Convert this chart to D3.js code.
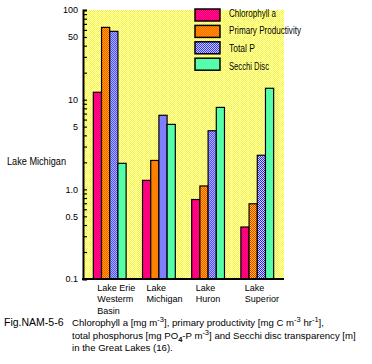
<!DOCTYPE html>
<html>
<head>
<meta charset="utf-8">
<script src="https://cdn.jsdelivr.net/npm/d3@7"></script>
<style>
body { margin: 0; background: #fff; }
text { font-family: "Liberation Sans", Arial, sans-serif; fill: #000; }
</style>
</head>
<body>
<svg id="chart" width="372" height="364"></svg>
<script>
/* data (log scale) */
var lakes = ["Erie", "Michigan", "Huron", "Superior"];
var lake_labels = [["Lake Erie", "Westerm", "Basin"], ["Lake", "Michigan"], ["Lake", "Huron"], ["Lake", "Superior"]];
var series_names = ["Chlorophyll a", "Primary Productivity", "Total P", "Secchi Disc"];
var chlorophyll = [12.1, 1.26, 0.77, 0.38];
var productivity = [64, 2.1, 1.09, 0.69];
var total_p = [57.8, 6.7, 4.5, 2.4];
var secchi = [1.95, 5.3, 8.2, 13.4];
var tick_values = [100, 50, 10, 5, 1, 0.5, 0.1];
var tick_texts = ["100", "50", "10", "5", "1.0", "0.5", "0.1"];

var series = [chlorophyll, productivity, total_p, secchi];
var fills = ["url(#p-chl)", "url(#p-prod)", "url(#p-totp)", "#55ffaa"];
// the original uses a narrow bitmap font, so legend texts get squeezed to its widths
var legend_widths = [47, 72, 26, 40];

var svg = d3.select("#chart");

/* checkered fills imitating the dithered original */
var defs = svg.append("defs");
function checker(id, c1, c2){
	var p = defs.append("pattern")
	.attr("id", id)
	.attr("width", 2)
	.attr("height", 2)
	.attr("patternUnits", "userSpaceOnUse");
	p.append("rect").attr("width", 2).attr("height", 2).attr("fill", c1);
	p.append("rect").attr("width", 1).attr("height", 1).attr("fill", c2);
	p.append("rect").attr("x", 1).attr("y", 1).attr("width", 1).attr("height", 1).attr("fill", c2);
}
checker("p-bg", "#ffff00", "#ffffff");
checker("p-chl", "#ff0000", "#ff00ff");
checker("p-prod", "#ff0000", "#ffff00");
checker("p-totp", "#0000ff", "#ffffff");

var x = d3.scaleBand().domain(lakes).range([83, 284]).paddingInner(0.333).paddingOuter(0.21);
var xs = d3.scaleBand().domain(d3.range(4)).range([0, x.bandwidth()]);
var y = d3.scaleLog().domain([0.1, 100]).range([279, 10]);

// plot background
svg.append("rect")
.attr("x", 83)
.attr("y", 10)
.attr("width", 201)
.attr("height", 269)
.attr("fill", "url(#p-bg)");

// bars
var groups = svg.append("g")
.selectAll("g")
.data(lakes)
.enter().append("g")
.attr("transform", function(d){ return "translate(" + x(d) + ",0)"; });

groups.selectAll("rect")
.data(function(d, i){
	return series.map(function(s, k){ return {k: k, v: s[i]}; });
})
.enter().append("rect")
.attr("x", function(d){ return xs(d.k); })
.attr("y", function(d){ return y(d.v); })
.attr("width", xs.bandwidth())
.attr("height", function(d){ return y(0.1) - y(d.v); })
.attr("fill", function(d){ return fills[d.k]; })
.attr("stroke", "#000")
.attr("stroke-width", 1.2);

// y axis, ticks pointing inward
var axis = svg.append("g")
.attr("transform", "translate(83,0)")
.call(d3.axisLeft(y)
	.ticks(30)
	.tickSize(-4)
	.tickPadding(5)
	.tickFormat(function(d){
		var i = tick_values.findIndex(function(t){ return Math.abs(t - d) < 1e-9; });
		return i < 0 ? "" : tick_texts[i];
	}));
axis.select(".domain").attr("stroke-width", 2);
axis.selectAll(".tick line").attr("stroke-width", 1.2);
axis.selectAll(".tick text").attr("font-size", 9).attr("font-family", null);

// x axis line
svg.append("line")
.attr("x1", 82)
.attr("x2", 284)
.attr("y1", 279)
.attr("y2", 279)
.attr("stroke", "#000")
.attr("stroke-width", 2);

// lake labels
svg.append("g")
.selectAll("text")
.data(lakes)
.enter().append("text")
.attr("font-size", 9)
.attr("y", 290.5)
.each(function(d, i){
	var t = d3.select(this);
	lake_labels[i].forEach(function(line, j){
		t.append("tspan")
		.attr("x", x(d) + 4)
		.attr("dy", j == 0 ? 0 : 11.5)
		.text(line);
	});
});

// legend
var legend = svg.append("g")
.selectAll("g")
.data(series_names)
.enter().append("g")
.attr("transform", function(d, i){ return "translate(195," + (9 + i * 16.4) + ")"; });

legend.append("rect")
.attr("width", 25)
.attr("height", 12)
.attr("fill", function(d, i){ return fills[i]; })
.attr("stroke", "#000")
.attr("stroke-width", 1.5);

legend.append("text")
.attr("x", 34)
.attr("y", function(d, i){ return 4 + i * 1.6; })
.attr("dy", "0.35em")
.attr("font-size", 10)
.attr("textLength", function(d, i){ return legend_widths[i]; })
.attr("lengthAdjust", "spacingAndGlyphs")
.text(function(d){ return d; });

svg.append("text")
.attr("x", 7)
.attr("y", 164.5)
.attr("font-size", 10.5)
.attr("textLength", 59)
.attr("lengthAdjust", "spacingAndGlyphs")
.text("Lake Michigan");

// caption
var cap = svg.append("g").attr("font-size", 9.6);
cap.append("text").attr("x", 4).attr("y", 326)
.attr("font-size", 10.5)
.text("Fig.NAM-5-6");

var l1 = cap.append("text").attr("x", 72).attr("y", 326);
l1.append("tspan").text("Chlorophyll a  [mg m");
l1.append("tspan").attr("dy", -4).attr("font-size", 7.5).text("-3");
l1.append("tspan").attr("dy", 4).text("], primary productivity [mg C m");
l1.append("tspan").attr("dy", -4).attr("font-size", 7.5).text("-3");
l1.append("tspan").attr("dy", 4).text(" hr");
l1.append("tspan").attr("dy", -4).attr("font-size", 7.5).text("-1");
l1.append("tspan").attr("dy", 4).text("],");

var l2 = cap.append("text").attr("x", 72).attr("y", 338.5);
l2.append("tspan").text("total phosphorus [mg PO");
l2.append("tspan").attr("dy", 3).attr("font-size", 7.5).attr("font-weight", "bold").text("4");
l2.append("tspan").attr("dy", -3).text("-P m");
l2.append("tspan").attr("dy", -4).attr("font-size", 7.5).text("-3");
l2.append("tspan").attr("dy", 4).text("] and Secchi disc transparency [m]");

cap.append("text").attr("x", 72).attr("y", 350.5)
.text("in the Great Lakes (16).");
</script>
</body>
</html>
